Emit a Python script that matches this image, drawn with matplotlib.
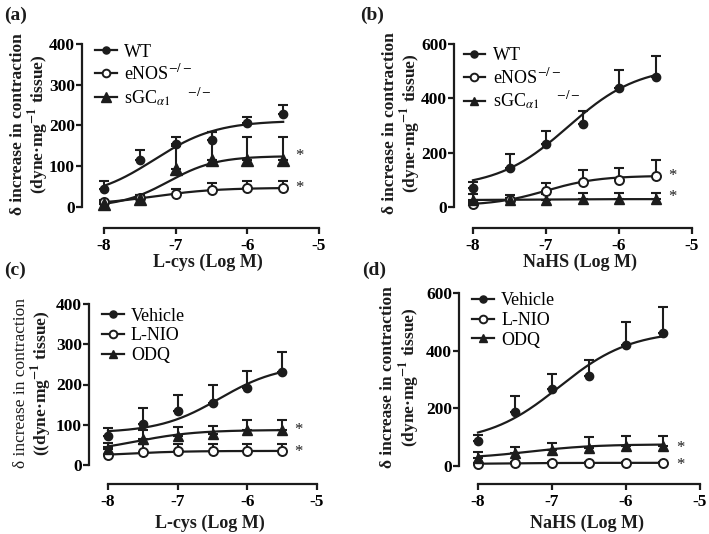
import numpy as np
import matplotlib
matplotlib.use("Agg")
import matplotlib.pyplot as plt

plt.rcParams['font.family'] = ['Liberation Serif', 'DejaVu Serif']
plt.rcParams['mathtext.fontset'] = 'stix'
plt.rcParams['axes.unicode_minus'] = False

# log concentrations
logc = [-8, -7.5, -7, -6.5, -6, -5.5]

# (a) L-cys, knockout mice
a_wt = [45, 116, 155, 165, 206, 227]
a_wt_err = [20, 25, 18, 18, 16, 24]
a_enos = [12, 22, 32, 41, 46, 46]
a_enos_err = [5, 8, 11, 19, 17, 17]
a_sgc = [8, 20, 93, 115, 116, 116]
a_sgc_err = [5, 10, 56, 68, 55, 55]

# (b) NaHS, knockout mice
b_wt = [70, 144, 232, 306, 437, 478]
b_wt_err = [22, 51, 48, 48, 68, 79]
b_enos = [10, 25, 59, 91, 99, 113]
b_enos_err = [8, 8, 30, 45, 46, 59]
b_sgc = [25, 25, 27, 28, 28, 28]
b_sgc_err = [22, 20, 22, 22, 22, 22]

# (c) L-cys, inhibitors
c_veh = [71, 102, 133, 154, 191, 230]
c_veh_err = [21, 40, 42, 46, 43, 51]
c_lnio = [26, 32, 34, 34, 34, 34]
c_lnio_err = [18, 20, 18, 18, 18, 18]
c_odq = [40, 65, 73, 77, 86, 88]
c_odq_err = [15, 21, 21, 19, 26, 25]

# (d) NaHS, inhibitors
d_veh = [85, 189, 266, 313, 418, 463]
d_veh_err = [23, 55, 54, 55, 81, 87]
d_lnio = [6, 10, 10, 10, 10, 12]
d_lnio_err = [3, 3, 3, 3, 3, 3]
d_odq = [27, 44, 56, 64, 70, 70]
d_odq_err = [20, 23, 23, 38, 35, 35]

# sigmoid fit parameters: bottom, top, logEC50, hill
a_fits = [(20, 212, -7.3, 1.0), (5, 47, -7.3, 1.0), (0, 125, -7.1, 1.3)]
b_fits = [(70, 520, -6.7, 0.9), (5, 115, -7.0, 1.2), (25, 29, -7.5, 1.0)]
c_fits = [(80, 250, -6.4, 1.0), (20, 35, -7.8, 1.0), (30, 87, -7.6, 1.0)]
d_fits = [(80, 470, -6.9, 0.9), (6, 11, -7.8, 1.0), (25, 75, -7.3, 1.0)]

W, H = 709, 534
col = '#1c1c1c'
fig = plt.figure(figsize=(W / 100, H / 100), dpi=100)


def hill(x, p):
    b, t, ec, h = p
    return b + (t - b) / (1 + 10 ** ((ec - x) * h))


def panel(box, x0px, ymax, ytop_px, y0_px, series, fits, labels, tri_ms, stars, xlabel, leg_xy):
    l, r, t, b = box
    ax = fig.add_axes([l / W, 1 - b / H, (r - l) / W, (b - t) / H])
    upx = 3.0 / (r - x0px)
    ax.set_xlim(-8 - (x0px - l) * upx, -5)
    vpx = ymax / (y0_px - ytop_px)
    ax.set_ylim(-(b - y0_px) * vpx, ymax + (ytop_px - t) * vpx)
    ax.spines['top'].set_visible(False)
    ax.spines['right'].set_visible(False)
    ax.spines['bottom'].set_bounds(-8, -5)
    ax.spines['left'].set_bounds(0, ymax)
    for s in ('bottom', 'left'):
        ax.spines[s].set_linewidth(1.6)
        ax.spines[s].set_color(col)
    ax.set_xticks([-8, -7, -6, -5])
    ax.set_yticks(np.linspace(0, ymax, 5 if ymax == 400 else 4))
    ax.tick_params(width=1.6, length=4, color=col, labelsize=12.5)
    ax.tick_params(axis='y', pad=1)
    for lab in ax.get_xticklabels() + ax.get_yticklabels():
        lab.set_fontweight('bold')
    xs = np.linspace(-8, -5.5, 200)
    styles = [dict(marker='o', mfc=col, ms=6),
              dict(marker='o', mfc='white', ms=6.5, mew=1.4),
              dict(marker='^', mfc=col, ms=tri_ms)]
    handles = []
    for (y, e), p, st, lab in zip(series, fits, styles, labels):
        ax.errorbar(logc, y, yerr=[np.zeros(len(e)), e], fmt='none', ecolor=col,
                    elinewidth=1.5, capsize=3.5, capthick=1.5, zorder=2)
        ax.plot(xs, hill(xs, p), color=col, lw=1.6, zorder=3)
        ax.plot(logc, y, ls='none', color=col, zorder=4, **st)
        h, = ax.plot([], [], color=col, lw=1.6, **{**st, 'ms': st['ms'] * 0.85})
        handles.append(h)
    for yv in stars:
        ax.text(-5.27, yv, '*', ha='center', va='center', fontsize=12, color=col)
    ax.legend(handles, labels, loc='upper left', bbox_to_anchor=leg_xy, frameon=False,
              fontsize=13, handlelength=1.2, handletextpad=0.4, labelspacing=0.15,
              borderaxespad=0.2)
    fig.text((l + r) / 2 / W + 0.01, 0, xlabel, fontsize=13, fontweight='bold',
             ha='center', va='center', color=col)
    return ax


ax = panel((82, 319, 44, 228), 104, 400, 44, 207,
           [(a_wt, a_wt_err), (a_enos, a_enos_err), (a_sgc, a_sgc_err)], a_fits,
           ['WT', r'eNOS$^{-/-}$', r'sGC$_{\alpha1}\ \ \ \ ^{-/-}$'], 8.5, [124, 47],
           'L-cys (Log M)', (0.01, 1.06))
ax = panel((454, 692, 44, 228), 473, 600, 44, 207,
           [(b_wt, b_wt_err), (b_enos, b_enos_err), (b_sgc, b_sgc_err)], b_fits,
           ['WT', r'eNOS$^{-/-}$', r'sGC$_{\alpha1}\ \ \ \ ^{-/-}$'], 6.5, [113, 35],
           'NaHS (Log M)', (-0.005, 1.04))
ax = panel((89, 317, 304, 484), 108, 400, 304, 465,
           [(c_veh, c_veh_err), (c_lnio, c_lnio_err), (c_odq, c_odq_err)], c_fits,
           ['Vehicle', 'L-NIO', 'ODQ'], 6.5, [86, 32],
           'L-cys (Log M)', (0.01, 1.04))
ax = panel((459, 700, 293, 484), 478, 600, 293, 466,
           [(d_veh, d_veh_err), (d_lnio, d_lnio_err), (d_odq, d_odq_err)], d_fits,
           ['Vehicle', 'L-NIO', 'ODQ'], 6.5, [64, 2],
           'NaHS (Log M)', (0.01, 1.06))

# x labels y positions
for t, yp in zip(fig.texts, [262, 262, 523, 523]):
    t.set_y(1 - yp / H)

# y labels
ylab2 = r'(dyne·mg$^{\mathbf{-1}}$ tissue)'
for x1, x2, yc, l2, w1 in [(18, 39, 124, ylab2, 'bold'), (390, 411, 123, ylab2, 'bold'),
                           (21, 42, 383, '(' + ylab2, 'normal'), (388, 410, 377, ylab2, 'bold')]:
    fig.text(x1 / W, 1 - yc / H, 'δ increase in contraction', rotation=90, fontsize=12.5,
             fontweight=w1, ha='center', va='center', color=col)
    fig.text(x2 / W, 1 - yc / H, l2, rotation=90, fontsize=12.5,
             fontweight='bold', ha='center', va='center', color=col)

# panel tags
for s, x, y in [('(a)', 4, 15), ('(b)', 360, 15), ('(c)', 4, 270), ('(d)', 362, 270)]:
    fig.text(x / W, 1 - y / H, s, fontsize=14, fontweight='bold', ha='left', va='center', color=col)

fig.savefig('out.png', dpi=100)
